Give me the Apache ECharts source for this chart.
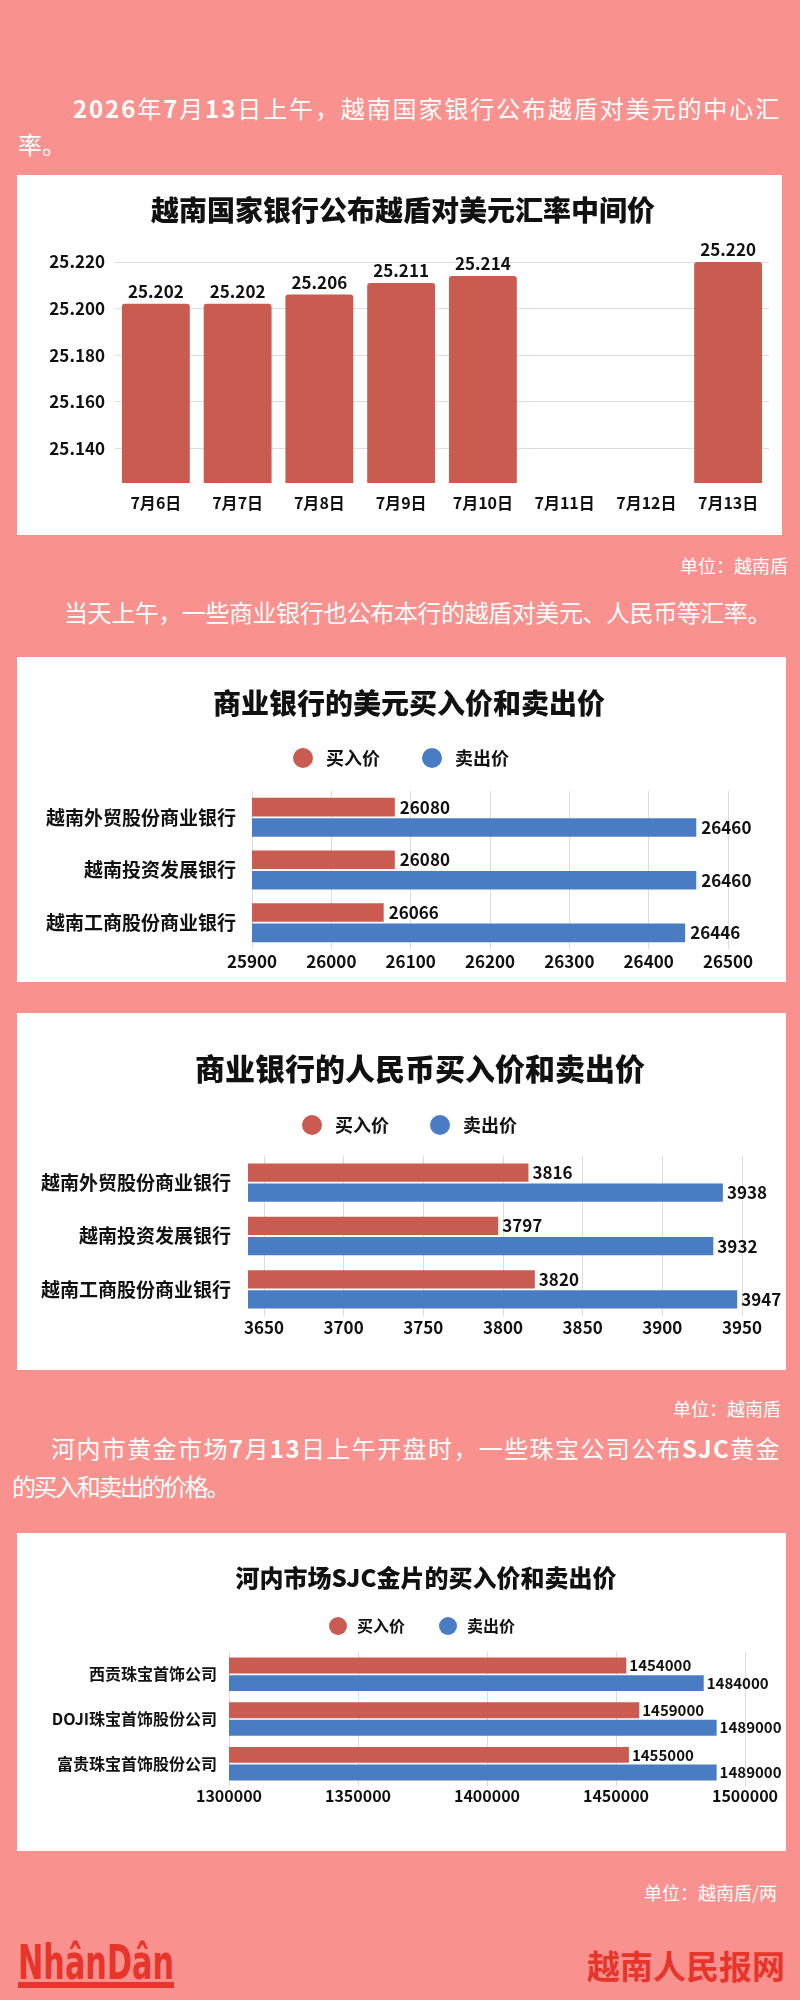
<!DOCTYPE html>
<html><head><meta charset="utf-8">
<script src="https://cdn.jsdelivr.net/npm/echarts@6/dist/echarts.min.js"></script>
<style>
html,body{margin:0;padding:0;}
body{width:800px;height:2000px;background:#F9918E;position:relative;overflow:hidden;font-family:"Noto Sans CJK SC","Noto Sans",sans-serif;}
.t{position:absolute;color:#fff;white-space:nowrap;line-height:1;}
.p{font-size:24px;}
.p b{font-weight:bold;}
.u{font-size:18px;}
.panel{position:absolute;background:#fff;}
#logo{position:absolute;left:18px;top:1938px;color:#E8342A;font-family:"Liberation Sans Narrow","DejaVu Sans Condensed","Liberation Sans",sans-serif;font-weight:bold;font-size:48px;line-height:1;white-space:nowrap;transform-origin:0 0;}
#logobar{position:absolute;left:18px;top:1982px;width:156px;height:6px;background:#E8342A;}
#site{position:absolute;left:587px;top:1949px;color:#E8352B;font-size:33px;font-weight:bold;line-height:1;white-space:nowrap;}
</style></head><body>

<div class="t p" data-w="708" style="left:73px;top:96px;"><b>2026</b>年<b>7</b>月<b>13</b>日上午，越南国家银行公布越盾对美元的中心汇</div>
<div class="t p" style="left:18px;top:132px;">率。</div>
<div class="panel" id="c1" style="left:17px;top:175px;width:765px;height:360px;"></div>
<div class="t u" style="right:12px;top:556px;">单位：越南盾</div>
<div class="t p" data-w="707" style="left:64px;top:600px;">当天上午，一些商业银行也公布本行的越盾对美元、人民币等汇率。</div>
<div class="panel" id="c2" style="left:17px;top:657px;width:769px;height:325px;"></div>
<div class="panel" id="c3" style="left:17px;top:1013px;width:769px;height:357px;"></div>
<div class="t u" style="right:19px;top:1399px;">单位：越南盾</div>
<div class="t p" data-w="730" style="left:51px;top:1436px;">河内市黄金市场<b>7</b>月<b>13</b>日上午开盘时，一些珠宝公司公布<b>SJC</b>黄金</div>
<div class="t p" data-w="216" style="left:12px;top:1474px;">的买入和卖出的价格。</div>
<div class="panel" id="c4" style="left:17px;top:1533px;width:769px;height:318px;"></div>
<div class="t u" style="right:23px;top:1883px;">单位：越南盾/两</div>
<div id="logo">NhânDân</div>
<div id="logobar"></div>
<div id="site">越南人民报网</div>

<script>
// ---- data ----
const dates = ['7月6日','7月7日','7月8日','7月9日','7月10日','7月11日','7月12日','7月13日'];
const centralRate = [25.202, 25.202, 25.206, 25.211, 25.214, null, null, 25.220];
const rateTicks = [25.14, 25.16, 25.18, 25.20, 25.22];

const seriesNames = ['买入价', '卖出价'];
const banks = ['越南外贸股份商业银行', '越南投资发展银行', '越南工商股份商业银行'];
const usdBuy = [26080, 26080, 26066];
const usdSell = [26460, 26460, 26446];

const cnyBuy = [3816, 3797, 3820];
const cnySell = [3938, 3932, 3947];
const cnyTicks = [3650, 3700, 3750, 3800, 3850, 3900, 3950];

const goldCompanies = ['西贡珠宝首饰公司', 'DOJI珠宝首饰股份公司', '富贵珠宝首饰股份公司'];
const goldBuy = [1454000, 1459000, 1455000];
const goldSell = [1484000, 1489000, 1489000];

// ---- styles ----
const FONT = '"Noto Sans CJK SC","Noto Sans",sans-serif';
const RED = '#C95B50';
const BLUE = '#4A7CC3';
const INK = '#111111';
const GRID = '#DCDCDC';

// text fitting
(function(){
  const l=document.getElementById('logo');const w=l.getBoundingClientRect().width;l.style.transform='scaleX('+(156/w)+')';
  document.querySelectorAll('[data-w]').forEach(el=>{
    const target=+el.dataset.w; const n=el.textContent.length; const cw=el.getBoundingClientRect().width;
    el.style.letterSpacing=((target-cw)/n)+'px';
  });
})();

// ---- chart 1 ----
const c1 = echarts.init(document.getElementById('c1'), null, {renderer:'canvas'});
c1.setOption({
  animation:false,
  textStyle:{fontFamily:FONT},
  title:{text:'越南国家银行公布越盾对美元汇率中间价', left:386, top:21, textAlign:'center', padding:0,
    textStyle:{fontSize:28, fontWeight:900, color:INK, fontFamily:FONT}},
  grid:{left:98, right:13, top:87, bottom:52},
  xAxis:{type:'category', data:dates, axisLine:{show:false}, axisTick:{show:false},
    axisLabel:{margin:12, fontSize:16, fontWeight:'bold', color:INK, fontFamily:FONT}},
  yAxis:{type:'value', min:25.125, max:25.22, axisLine:{show:false},
    axisTick:{show:false, customValues:rateTicks},
    axisLabel:{customValues:rateTicks, margin:10, fontSize:17, fontWeight:'bold', color:INK, fontFamily:FONT,
      formatter:v=>Number(v).toFixed(3)},
    splitLine:{show:true, lineStyle:{color:GRID, width:1}}},
  series:[{type:'bar', data:centralRate, barCategoryGap:'17%',
    itemStyle:{color:RED, borderRadius:[3,3,0,0]},
    label:{show:true, position:'top', distance:4, fontSize:17, fontWeight:'bold', color:INK, fontFamily:FONT,
      formatter:p=>p.value==null?'':Number(p.value).toFixed(3)}}]
});

// ---- horizontal bar builder ----
function hbar(el, cfg){
  const ch = echarts.init(document.getElementById(el), null, {renderer:'canvas'});
  const xAxis = {type:'value', min:cfg.min, max:cfg.max, axisLine:{show:false}, axisTick:{show:false},
    axisLabel:{margin:cfg.xMargin, fontSize:cfg.xFont, fontWeight:'bold', color:INK, fontFamily:FONT,
      formatter:v=>String(v)},
    splitLine:{show:true, lineStyle:{color:GRID, width:1}}};
  if (cfg.interval) xAxis.interval = cfg.interval;
  if (cfg.ticks) { xAxis.axisTick.customValues = cfg.ticks; xAxis.axisLabel.customValues = cfg.ticks; }
  const lab = {show:true, position:'right', distance:cfg.labDist, fontSize:cfg.labFont, fontWeight:'bold', color:INK, fontFamily:FONT};
  ch.setOption({
    animation:false,
    textStyle:{fontFamily:FONT},
    title:{text:cfg.title, left:cfg.titleX, top:cfg.titleTop, textAlign:'center', padding:0,
      textStyle:{fontSize:cfg.titleFont, fontWeight:900, color:INK, fontFamily:FONT}},
    legend:{data:seriesNames, icon:'circle', left:cfg.legLeft, top:cfg.legTop, padding:0,
      itemWidth:cfg.legIcon, itemHeight:cfg.legIcon, itemGap:cfg.legGap,
      textStyle:{fontSize:cfg.legFont, fontWeight:'bold', color:INK, fontFamily:FONT, padding:[0,0,0,cfg.legPad]}},
    grid:cfg.grid,
    xAxis:xAxis,
    yAxis:{type:'category', inverse:true, data:cfg.cats, axisLine:{show:false}, axisTick:{show:false},
      axisLabel:{margin:cfg.yMargin, fontSize:cfg.yFont, fontWeight:'bold', color:INK, fontFamily:FONT}},
    series:[
      {name:seriesNames[0], type:'bar', data:cfg.buy, barGap:cfg.barGap, barCategoryGap:cfg.catGap, itemStyle:{color:RED}, label:lab},
      {name:seriesNames[1], type:'bar', data:cfg.sell, barGap:cfg.barGap, barCategoryGap:cfg.catGap, itemStyle:{color:BLUE}, label:lab}
    ]
  });
}

hbar('c2', {title:'商业银行的美元买入价和卖出价', titleX:392, titleTop:32, titleFont:28,
  legLeft:276, legTop:91, legIcon:20, legGap:42, legFont:18, legPad:8,
  grid:{left:235, right:58, top:134, bottom:33},
  min:25900, max:26500, interval:100, xMargin:4, xFont:17,
  cats:banks, yMargin:16, yFont:19, buy:usdBuy, sell:usdSell,
  barGap:'10%', catGap:'26%', labDist:5, labFont:17});

hbar('c3', {title:'商业银行的人民币买入价和卖出价', titleX:403, titleTop:41, titleFont:30,
  legLeft:285, legTop:102, legIcon:20, legGap:41, legFont:18, legPad:8,
  grid:{left:231, right:44, top:143, bottom:54},
  min:3640, max:3950, ticks:cnyTicks, xMargin:3, xFont:17,
  cats:banks, yMargin:17, yFont:19, buy:cnyBuy, sell:cnySell,
  barGap:'10%', catGap:'28%', labDist:4, labFont:17});

hbar('c4', {title:'河内市场SJC金片的买入价和卖出价', titleX:409, titleTop:33, titleFont:24,
  legLeft:312, legTop:84, legIcon:18, legGap:34, legFont:16, legPad:5,
  grid:{left:212, right:41, top:119, bottom:65},
  min:1300000, max:1500000, interval:50000, xMargin:2, xFont:16,
  cats:goldCompanies, yMargin:12, yFont:16, buy:goldBuy, sell:goldSell,
  barGap:'10%', catGap:'25%', labDist:3, labFont:15});
</script>
</body></html>
